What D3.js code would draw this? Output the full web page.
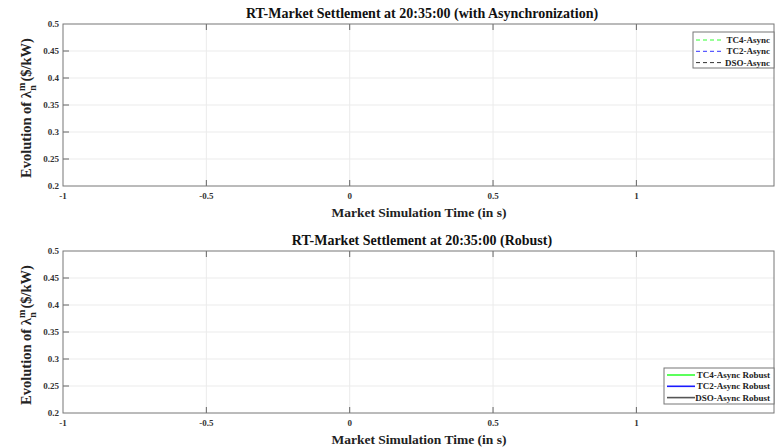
<!DOCTYPE html>
<html>
<head>
<meta charset="utf-8">
<script src="https://cdn.jsdelivr.net/npm/d3@7"></script>
<style>
  body { margin: 0; background: #fff; }
  text { font-family: "Liberation Serif", "Times New Roman", serif; font-weight: bold; }
</style>
</head>
<body>
<div id="chart"></div>
<script>
var W = 775, H = 448;

// axis settings
var xDomain = [-1, 1.48];
var yDomain = [0.2, 0.5];
var xTicks = [-1, -0.5, 0, 0.5, 1];
var yTicks = [0.2, 0.25, 0.3, 0.35, 0.4, 0.45, 0.5];

// series (no samples fall inside the visible window)
var asyncNames = ["TC4-Async", "TC2-Async", "DSO-Async"];
var robustNames = ["TC4-Async Robust", "TC2-Async Robust", "DSO-Async Robust"];
var seriesColors = ["#33ff33", "#3333ff", "#333333"];
var robustColors = ["#33ff33", "#1a1aff", "#555555"];
var tc4Async = [], tc2Async = [], dsoAsync = [];
var tc4Robust = [], tc2Robust = [], dsoRobust = [];

var panels = [
  { title: "RT-Market Settlement at 20:35:00 (with Asynchronization)", top: 24, bottom: 186,
    names: asyncNames, colors: seriesColors, data: [tc4Async, tc2Async, dsoAsync], dash: "4,3",
    legend: { x: 693, y: 32, w: 81, h: 36, line: 28, row0: 8 } },
  { title: "RT-Market Settlement at 20:35:00 (Robust)", top: 251, bottom: 413,
    names: robustNames, colors: robustColors, data: [tc4Robust, tc2Robust, dsoRobust], dash: null,
    legend: { x: 664, y: 368, w: 110, h: 36, line: 28, row0: 7 } }
];

var left = 63, right = 774;

var svg = d3.select("#chart").append("svg")
  .attr("width", W).attr("height", H);

panels.forEach(function(p) {
  var x = d3.scaleLinear().domain(xDomain).range([left, right]);
  var y = d3.scaleLinear().domain(yDomain).range([p.bottom, p.top]);
  var g = svg.append("g");

  // grid
  g.selectAll(".gx").data(xTicks.slice(1)).enter().append("line")
    .attr("x1", d => x(d)).attr("x2", d => x(d))
    .attr("y1", p.top).attr("y2", p.bottom)
    .attr("stroke", "#ebebeb").attr("stroke-width", 1);
  g.selectAll(".gy").data(yTicks.slice(1, -1)).enter().append("line")
    .attr("x1", left).attr("x2", right)
    .attr("y1", d => y(d)).attr("y2", d => y(d))
    .attr("stroke", "#ebebeb").attr("stroke-width", 1);

  // inward ticks
  var tl = 6;
  xTicks.slice(1).forEach(function(t) {
    g.append("line").attr("x1", x(t)).attr("x2", x(t)).attr("y1", p.bottom).attr("y2", p.bottom - tl)
      .attr("stroke", "#666");
    g.append("line").attr("x1", x(t)).attr("x2", x(t)).attr("y1", p.top).attr("y2", p.top + tl)
      .attr("stroke", "#666");
  });
  yTicks.slice(1, -1).forEach(function(t) {
    g.append("line").attr("x1", left).attr("x2", left + tl).attr("y1", y(t)).attr("y2", y(t))
      .attr("stroke", "#666");
  });

  // box
  g.append("rect").attr("x", left).attr("y", p.top)
    .attr("width", right - left).attr("height", p.bottom - p.top)
    .attr("fill", "none").attr("stroke", "#777").attr("stroke-width", 1);

  // tick labels
  g.selectAll(".xl").data(xTicks).enter().append("text")
    .attr("x", d => x(d)).attr("y", p.bottom + 13)
    .attr("text-anchor", "middle").attr("font-size", 9).attr("fill", "#333")
    .text(d => d);
  g.selectAll(".yl").data(yTicks).enter().append("text")
    .attr("x", left - 4).attr("y", d => y(d) + 3)
    .attr("text-anchor", "end").attr("font-size", 9).attr("fill", "#333")
    .text(d => d);

  // titles
  g.append("text").attr("x", 422).attr("y", p.top - 6)
    .attr("text-anchor", "middle").attr("font-size", 14).attr("fill", "#111")
    .text(p.title);
  g.append("text").attr("x", 419).attr("y", p.bottom + 31)
    .attr("text-anchor", "middle").attr("font-size", 13.5).attr("fill", "#222")
    .text("Market Simulation Time (in s)");

  var yl = g.append("text")
    .attr("transform", "translate(31," + ((p.top + p.bottom) / 2 + 3) + ") rotate(-90)")
    .attr("text-anchor", "middle").attr("font-size", 14.5).attr("fill", "#222");
  yl.append("tspan").text("Evolution of \u03bb");
  yl.append("tspan").attr("font-size", 10).attr("dy", -6).text("m");
  yl.append("tspan").attr("font-size", 10).attr("dx", -8).attr("dy", 11).text("n");
  yl.append("tspan").attr("dy", -5).text(" ($/kW)");

  // series lines
  var line = d3.line().x(d => x(d[0])).y(d => y(d[1]));
  p.data.forEach(function(s, i) {
    g.append("path").datum(s).attr("d", line)
      .attr("fill", "none").attr("stroke", p.colors[i]).attr("stroke-width", 1.2)
      .attr("stroke-dasharray", p.dash);
  });

  // legend
  var L = p.legend;
  g.append("rect").attr("x", L.x).attr("y", L.y).attr("width", L.w).attr("height", L.h)
    .attr("fill", "#fff").attr("stroke", "#777");
  p.names.forEach(function(n, i) {
    var ly = L.y + L.row0 + i * 11.3;
    g.append("line").attr("x1", L.x + 3).attr("x2", L.x + 3 + L.line)
      .attr("y1", ly).attr("y2", ly)
      .attr("stroke", p.colors[i]).attr("stroke-width", p.dash ? 1 : 1.6)
      .attr("stroke-dasharray", p.dash);
    g.append("text").attr("x", L.x + L.w - 4).attr("y", ly + 3)
      .attr("text-anchor", "end").attr("font-size", 9).attr("fill", "#222")
      .text(n);
  });
});
</script>
</body>
</html>
